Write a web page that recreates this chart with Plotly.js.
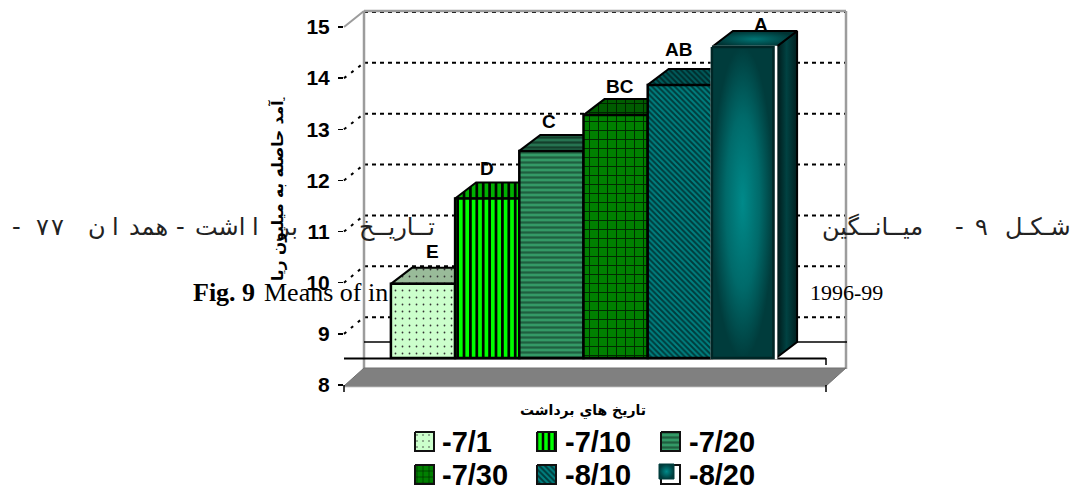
<!DOCTYPE html>
<html><head><meta charset="utf-8">
<script src="https://cdn.plot.ly/plotly-3.0.1.min.js"></script>
<style>html,body{margin:0;padding:0;background:#fff}#c{width:1072px;height:491px}</style></head>
<body><div id="c"></div>
<script>
const labels=["E","D","C","BC","AB","A"];
const dates=["-7/1","-7/10","-7/20","-7/30","-8/10","-8/20"];
const values=[9.45,11.12,12.05,12.75,13.34,14.08];
const ticks=[8,9,10,11,12,13,14,15];
const yTitle="آمد حاصله به ميليون ريا";
const xTitle="تاريخ هاي برداشت";
const capFig="Fig. 9";
const capA="Means of in";
const capB="1996-99";
const faTokens=["-","۷","۷","ن","ا","همد","-","اشت","ا","بر","تــاريــخ","میــانــگین","-","۹","شـکـل"];

const W=1072,H=491;
const P=x=>x/W, Q=y=>1-y/H;
const bw=64.2, x0=423, sc=51.14, base=358, dx=21, dy=16;
const xr=[(0-x0)/bw,(W-x0)/bw];
const yr=[8-(H-base)/sc,8+base/sc];
const ddx=dx/bw, ddy=dy/sc;
const frontShape=['.','|','-','+','\\',''];
const frontBg=['#ccffcc','#00ff00','#339966','#008000','#008080','#ffffff'];
const frontFg=['#333333','#000000','#1f5f40','#002800','#003c3c','#ffffff'];
const pSize=[7,6.4,5,9,4,8];
const pSol=[0.05,0.42,0.45,0.2,0.5,0.1];
const topBg=['#99bb99','#00b000','#267350','#005c00','#005c5c','#006666'];
const topFg=['#333333','#000000','#14402c','#002000','#002c2c','#006666'];
const idx=labels.map((_,i)=>i);

const traces=[];
idx.forEach(i=>{
  const l=i-.5,r=i+.5,v=values[i];
  const isA=i===5;
  const face=(xs,ys,grad)=>{
    const t={x:xs,y:ys,type:'scatter',mode:'lines',fill:'toself',xaxis:'x',yaxis:'y',zorder:0,hoverinfo:'skip',showlegend:false,
      line:{color:'#000',width:2}};
    if(grad) t.fillgradient=grad; else t.fillpattern={shape:frontShape[i],bgcolor:topBg[i],fgcolor:topFg[i],size:pSize[i],solidity:pSol[i]};
    t.fillcolor=topBg[i];
    return t;
  };
  traces.push(face([r,r+ddx,r+ddx,r,r],[v,v+ddy,8+ddy,8,v],isA?{type:'horizontal',colorscale:[[0,'#001414'],[.5,'#004242'],[1,'#001e1e']]}:null));
  traces.push(face([l,l+ddx,r+ddx,r,l],[v,v+ddy,v+ddy,v,v],isA?{type:'radial',colorscale:[[0,'#007474'],[1,'#003434']]}:null));
});
idx.forEach(i=>{
  traces.push({type:'bar',name:dates[i],x:[i],y:[values[i]-8],base:[8],width:1,xaxis:'x',yaxis:'y',zorder:1,hoverinfo:'skip',showlegend:false,
    marker:{color:frontBg[i],line:{color:i===5?'#ffffff':'#000000',width:2.5},
    pattern:{shape:frontShape[i],bgcolor:frontBg[i],fgcolor:frontFg[i],size:pSize[i],solidity:pSol[i]}}});
});
traces.push({type:'scatter',mode:'lines',fill:'toself',x:[4.5,5.46,5.46,4.5,4.5],y:[values[5],values[5],8,8,values[5]],xaxis:'x',yaxis:'y',zorder:2,hoverinfo:'skip',showlegend:false,
  fillgradient:{type:'radial',colorscale:[[0,'#008a8a'],[.55,'#006a6a'],[1,'#003c3c']]},line:{color:'#002626',width:2.5}});
traces.push({type:'scatter',mode:'none',x:ticks.map(()=>0),y:ticks,xaxis:'x',yaxis:'y2',hoverinfo:'skip',showlegend:false});
const swX=[415,537,661,415,537,661], swY=[432,432,432,465,465,465], sw=19;
dates.forEach((d,i)=>{
  const xs=[swX[i],swX[i]+sw,swX[i]+sw,swX[i],swX[i]],ys=[swY[i],swY[i],swY[i]+sw,swY[i]+sw,swY[i]];
  const t={type:'scatter',mode:'lines',fill:'toself',x:xs,y:ys,xaxis:'x2',yaxis:'y3',hoverinfo:'skip',showlegend:false,line:{color:'#111',width:2}};
  if(i<5){t.fillpattern={shape:frontShape[i],bgcolor:frontBg[i],fgcolor:frontFg[i],size:i==0?6:Math.min(pSize[i],6),solidity:pSol[i]};t.fillcolor=frontBg[i];}
  else{t.fillcolor='#fff';}
  traces.push(t);
});
traces.push({type:'scatter',mode:'lines',fill:'toself',x:[659,674,674,659,659],y:[464,464,479,479,464],xaxis:'x2',yaxis:'y3',hoverinfo:'skip',showlegend:false,
  fillgradient:{type:'radial',colorscale:[[0,'#008a8a'],[1,'#003c3c']]},line:{color:'#003c3c',width:1}});

const shapes=[];
const ln=(x0,y0,x1,y1,c,w,d)=>shapes.push({type:'line',xref:'paper',yref:'paper',x0:P(x0),y0:Q(y0),x1:P(x1),y1:Q(y1),layer:'below',line:{color:c,width:w,dash:d||'solid'}});
const grey='#9c9c9c';
ticks.slice(1).forEach(t=>{
  const yb=368-(t-8)*50.86, yf=385-(t-8)*51.14;
  ln(364,yb,846,yb,'#000',2,'4px,4px');
  if(t<15) ln(344,yf,364,yb,'#000',2,'3px,6px');
});
ln(364,11,364,369,grey,2.5); ln(846,11,846,369,grey,2.5); ln(364,11,846,11,grey,2.5); ln(344,27,364,11,grey,2);
shapes.push({type:'path',xref:'paper',yref:'paper',layer:'below',path:`M${P(344)},${Q(386)} L${P(826)},${Q(386)} L${P(846)},${Q(368)} L${P(364)},${Q(368)} Z`,fillcolor:'#808080',line:{color:'#707070',width:1}});
ln(344,386.5,826,386.5,grey,1.5);
ln(364,342,392,342,'#000',1.5); ln(776,342,847,342,'#000',1.5);
ln(344,358.5,826,358.5,'#000',2); ln(826,358,826,365,'#000',1.5);
ln(826,385,826,392,'#000',1.5); ln(344,385,344,392,'#000',1.5);

const ann=[];
const txt=(x,y,t,o)=>ann.push(Object.assign({xref:'paper',yref:'paper',x:P(x),y:Q(y),text:t,showarrow:false,xanchor:'center',yanchor:'middle',borderpad:0},o||{}));
const labDx=[9,0,-2,4,-1,17], labDy=[32,30,29,29,35,23];
labels.forEach((l,i)=>ann.push({xref:'x',yref:'y',x:i,y:values[i],xshift:labDx[i],yshift:labDy[i],text:'<b>'+l+'</b>',showarrow:false,xanchor:'center',yanchor:'middle',font:{family:'Liberation Sans',size:19,color:'#000'}}));
const fa={family:'DejaVu Sans',size:24,color:'#222'};
const faX=[16,42,58,97,115,148,180,220,255,287,397,872,959,981,1038];
faTokens.forEach((t,i)=>txt(faX[i],227,t,{font:fa}));
txt(192,292,'<b>'+capFig+'</b>',{xanchor:'left',font:{family:'Liberation Serif',size:26,color:'#000'}});
txt(263,292,capA,{xanchor:'left',font:{family:'Liberation Serif',size:26,color:'#000'}});
txt(809,292,capB,{xanchor:'left',font:{family:'Liberation Serif',size:22,color:'#000'}});
txt(277,191,'<b>'+yTitle+'</b>',{textangle:-90,font:{family:'DejaVu Sans',size:15.5,color:'#000'}});
txt(284,94,',',{font:{family:'Liberation Sans',size:15,color:'#000'}});
txt(583,411,'<b>'+xTitle+'</b>',{font:{family:'DejaVu Sans',size:14,color:'#000'}});
const legX=[441,564,688,441,564,688], legY=[442,442,442,475,475,475];
dates.forEach((d,i)=>txt(legX[i],legY[i],'<b>'+d+'</b>',{xanchor:'left',font:{family:'Liberation Sans',size:29,color:'#000'}}));

const layout={width:W,height:H,margin:{l:0,r:0,t:0,b:0},paper_bgcolor:'#fff',plot_bgcolor:'rgba(0,0,0,0)',showlegend:false,barmode:'overlay',
  xaxis:{range:xr,visible:false,domain:[0,1],fixedrange:true},
  yaxis:{range:yr,visible:false,domain:[0,1],fixedrange:true},
  yaxis2:{range:[8,15],domain:[Q(385),Q(27)],anchor:'free',position:P(344),side:'left',showgrid:false,zeroline:false,
    showline:true,linecolor:'#000',linewidth:2.5,ticks:'outside',ticklen:5,tickwidth:1.5,tickcolor:'#000',tickmode:'array',tickvals:ticks,ticktext:ticks.map(String),
    ticklabelstandoff:4,tickfont:{family:'Liberation Sans',size:21,weight:700,color:'#000'},fixedrange:true},
  xaxis2:{range:[0,W],visible:false,overlaying:'x',fixedrange:true},
  yaxis3:{range:[H,0],visible:false,overlaying:'y',fixedrange:true},
  shapes:shapes,annotations:ann};
Plotly.newPlot('c',traces,layout,{displayModeBar:false,staticPlot:true});
</script></body></html>
